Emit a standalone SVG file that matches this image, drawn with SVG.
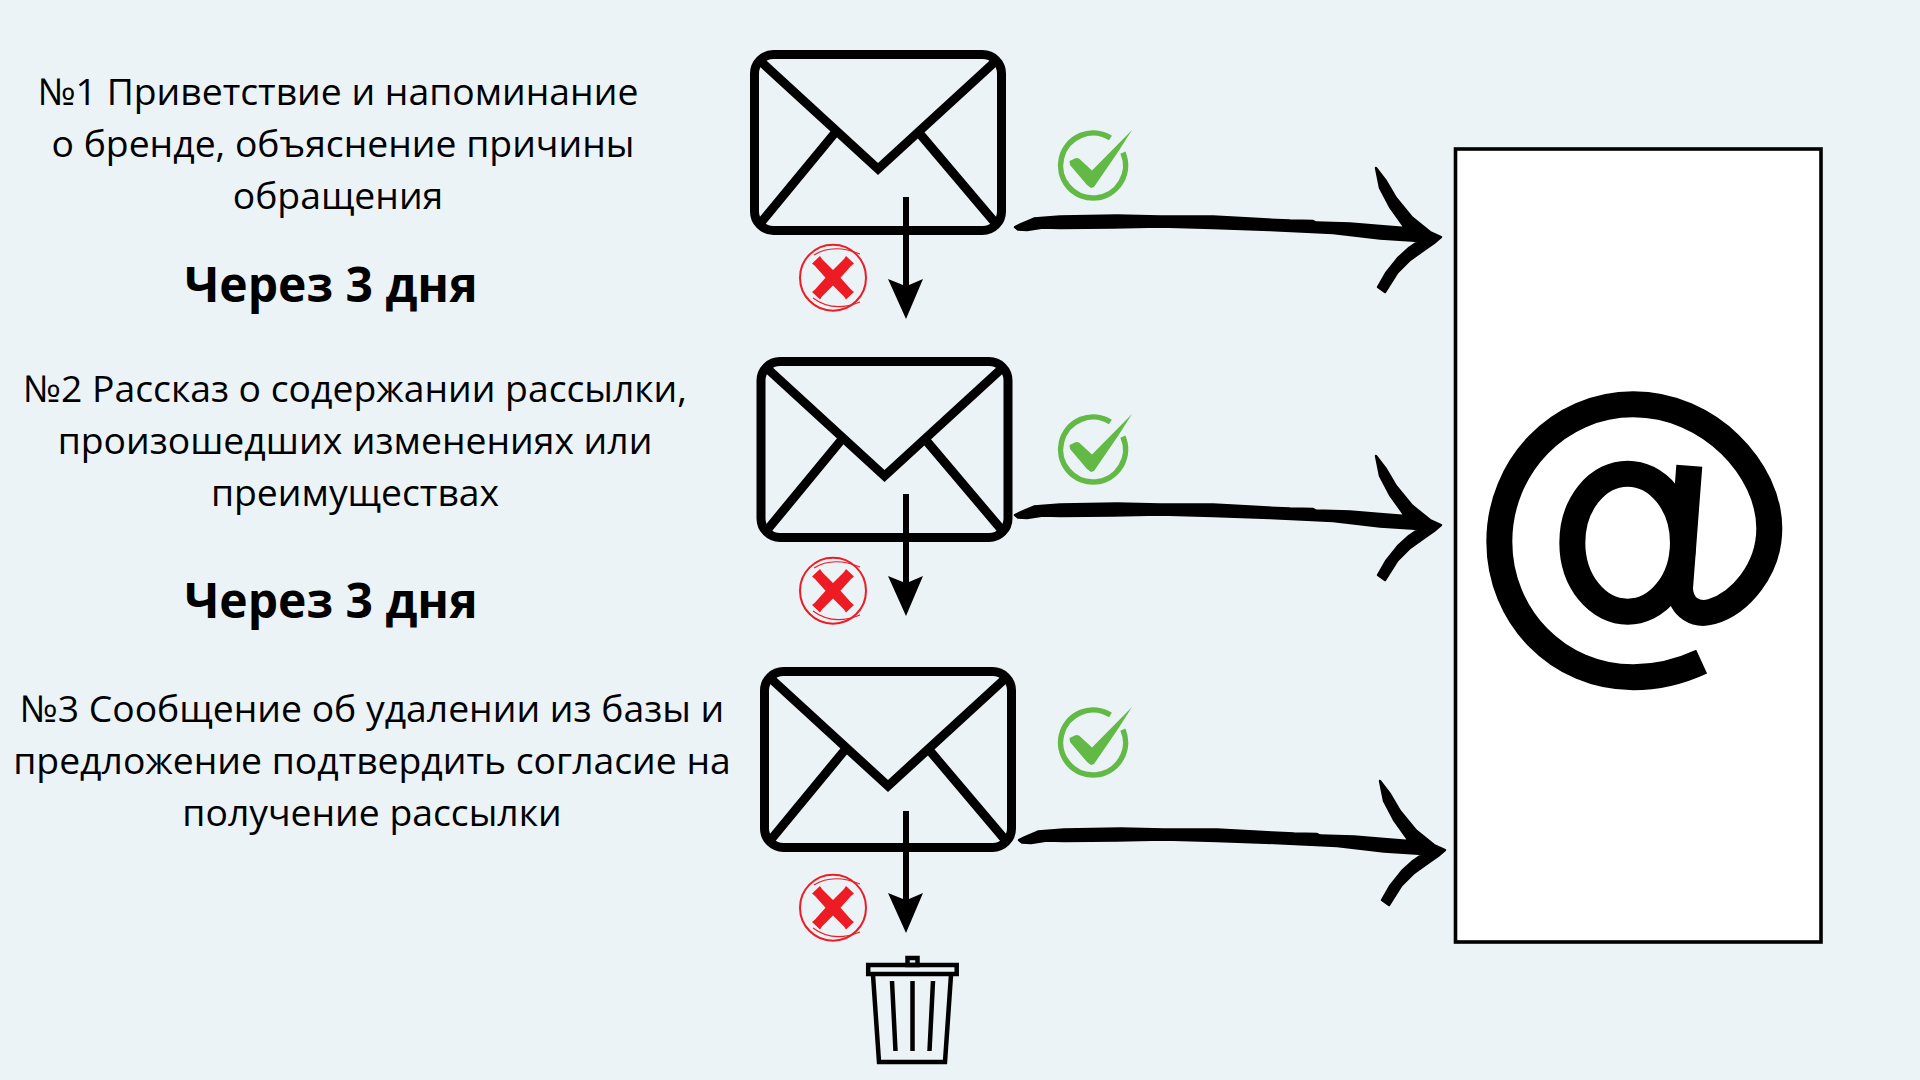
<svg xmlns="http://www.w3.org/2000/svg" width="1920" height="1080" viewBox="0 0 1920 1080">
<style>
.t{font-family:"Open Sans","Noto Sans",sans-serif;font-size:37.3px;fill:#000;text-anchor:middle}
.b{font-family:"Open Sans","Noto Sans",sans-serif;font-size:48px;font-weight:700;fill:#000;text-anchor:middle}
.env{fill:none;stroke:#000;stroke-width:9}
.sh{fill:#000}
.red{fill:none;stroke:#ed1c24}
.at{fill:none;stroke:#000;stroke-width:78}
</style>
<defs>
<g id="envelope">
<rect class="env" x="754.5" y="54.5" width="247" height="176" rx="19"/>
<path class="env" d="M758 59L878 169L998 59M834 134L759 225M920 134L997 225"/>
</g>
<path id="rough" class="sh" stroke="#000" stroke-width="2.400" stroke-linejoin="round" d="M1015 227L1021 224L1034 218.500L1060 216.500L1117 215.500L1160 216.500L1213 216.500L1250 218.500L1268 219.500L1290 220.500L1313 221L1316 222.500L1350 223.500L1380 226L1405 228L1390 207L1380 188L1376 168L1386 181L1396 198L1412 217.500L1430 232L1441 237L1434 243L1424 250L1410 260L1397 273L1385 292L1378 287L1386 273L1398 258L1409 248L1419 241L1380 238.500L1333 233L1270 230L1213 228L1160 226.500L1113 227.500L1060 228L1043 227.500L1027 230L1018 229.500Z"/>
<g id="ok">
<path fill="none" stroke="#62b946" stroke-width="5.500" d="M1110.400 138A32.500 32.500 0 1 0 1122.900 152.600"/>
<path fill="#62b946" d="M1069.500 161L1076 158L1079 158.500L1092 170.500L1132 130L1118 152L1094 187L1091 188L1087 185L1070 165Z"/>
</g>
<g id="no">
<circle class="red" cx="833" cy="277.700" r="33" stroke-width="2"/>
<path class="red" stroke-width="1.100" d="M814 255Q833 243 860 254M813 298Q833 313 860 302"/>
<path fill="#ed1c24" d="M833 270L844 259L846 256L854 263.500L851 266L840.500 277.700L851 289.500L854 292L846 299.500L844 296.500L833 285.500L822 296.500L820 299.500L812 292L815 289.500L825.500 277.700L815 266L812 263.500L820 256L822 259Z"/>
</g>
</defs>
<rect width="1920" height="1080" fill="#ebf3f7"/>
<g id="box">
<rect x="1455.500" y="149" width="365.500" height="793" fill="#fff" stroke="#000" stroke-width="3.600"/>
<g transform="translate(1440 370) scale(.3333)">
<path class="at" d="M785 875C720 905 650 922 580 922C355 922 178 740 178 515C178 290 355 103 580 103C810 103 988 300 988 475C988 600 900 700 815 725C770 738 722 715 720 655L748 287"/>
<ellipse class="at" cx="563" cy="518" rx="166" ry="207"/>
</g>
</g>
<g id="email-1"><use href="#envelope"/></g>
<g id="email-2"><use href="#envelope" transform="translate(6.5 307)"/></g>
<g id="email-3"><use href="#envelope" transform="translate(10 617)"/></g>
<g id="text-1">
<text class="t" x="338" y="105">№1 Приветствие и напоминание</text>
<text class="t" x="343" y="157">о бренде, объяснение причины</text>
<text class="t" x="338" y="209">обращения</text>
</g>
<text id="delay-1" class="b" x="331" y="302">Через 3 дня</text>
<g id="text-2">
<text class="t" x="355" y="402">№2 Рассказ о содержании рассылки,</text>
<text class="t" x="355" y="454">произошедших изменениях или</text>
<text class="t" x="355" y="506">преимуществах</text>
</g>
<text id="delay-2" class="b" x="331" y="618">Через 3 дня</text>
<g id="text-3">
<text class="t" x="372" y="722">№3 Сообщение об удалении из базы и</text>
<text class="t" x="372" y="774">предложение подтвердить согласие на</text>
<text class="t" x="372" y="826">получение рассылки</text>
</g>
<g id="connectors">
<path class="sh" d="M903 197H909V285L923 279L906 319L888 279L903 285Z"/>
<path class="sh" d="M903 494H909V582L923 576L906 616L888 576L903 582Z"/>
<path class="sh" d="M903 811H909V899L923 893L906 933L888 893L903 899Z"/>
<use href="#rough"/>
<use href="#rough" transform="translate(0 288)"/>
<use href="#rough" transform="translate(4 613)"/>
</g>
<g id="status-1">
<use href="#ok"/><use href="#no"/>
</g>
<g id="status-2">
<use href="#ok" transform="translate(0 284)"/><use href="#no" transform="translate(0 313)"/>
</g>
<g id="status-3">
<use href="#ok" transform="translate(0 577)"/><use href="#no" transform="translate(0 630)"/>
</g>
<g id="trash" fill="none" stroke="#000" stroke-width="4.5">
<rect x="868.2" y="965" width="88.5" height="9"/>
<rect x="907.5" y="958" width="10" height="7"/>
<path d="M873 975L879 1062H945L951 975"/>
<path d="M892 981L895.500 1051M912.500 981V1051M933 981L929.500 1051"/>
</g>
</svg>
